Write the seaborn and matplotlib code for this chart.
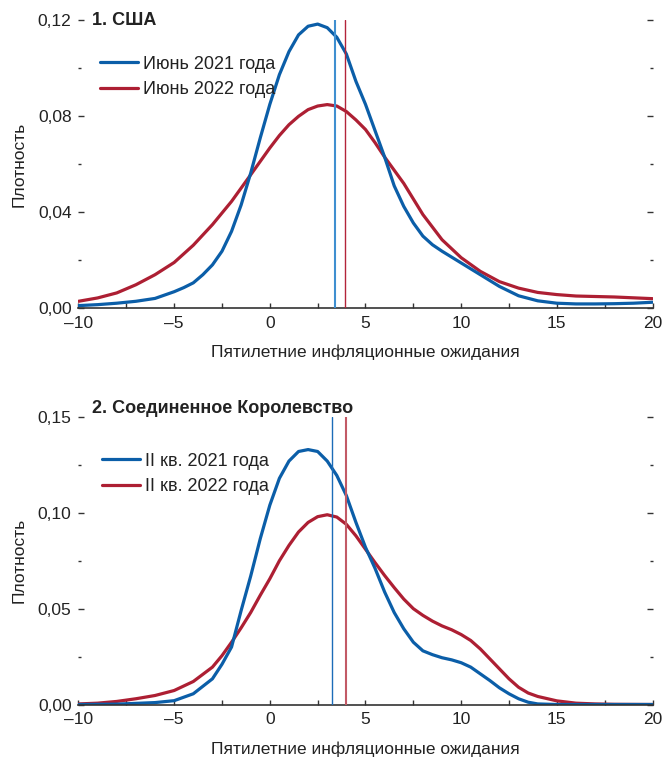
import matplotlib
matplotlib.use("Agg")
import matplotlib.pyplot as plt
import seaborn as sns
import pandas as pd
from matplotlib.ticker import MultipleLocator, FuncFormatter

# ---------------- data ----------------
x_us_2021 = [-10, -9, -8, -7, -6, -5, -4.5, -4, -3.5, -3, -2.5, -2, -1.5, -1, -0.5, 0, 0.5, 1,
             1.5, 2, 2.5, 3, 3.5, 4, 4.5, 5, 5.5, 6, 6.5, 7, 7.5, 8, 8.5, 9, 10, 11, 12, 13, 14,
             15, 16, 17, 18, 19, 20]
y_us_2021 = [0.001, 0.0014, 0.002, 0.0028, 0.0040, 0.0068, 0.0085, 0.0105, 0.0139, 0.018, 0.0237,
             0.032, 0.043, 0.0563, 0.071, 0.085, 0.0974, 0.107, 0.114, 0.1176, 0.1185, 0.117,
             0.113, 0.106, 0.0946, 0.085, 0.074, 0.063, 0.051, 0.0424, 0.0355, 0.030, 0.0264,
             0.0237, 0.0188, 0.0139, 0.009, 0.0051, 0.003, 0.002, 0.0017, 0.0017, 0.0018, 0.002,
             0.0024]

x_us_2022 = [-10, -9, -8, -7, -6, -5, -4, -3, -2, -1, 0, 0.5, 1, 1.5, 2, 2.5, 3, 3.5, 4, 4.5, 5,
             5.5, 6, 7, 8, 9, 10, 11, 12, 13, 14, 15, 16, 18, 20]
y_us_2022 = [0.0028, 0.0042, 0.0063, 0.0097, 0.0139, 0.019, 0.0262, 0.0348, 0.0445, 0.0556,
             0.0668, 0.072, 0.0765, 0.080, 0.0828, 0.0843, 0.0849, 0.0843, 0.082, 0.0785, 0.0745,
             0.069, 0.063, 0.052, 0.039, 0.0285, 0.021, 0.0153, 0.011, 0.0083, 0.0065, 0.0056,
             0.005, 0.0046, 0.0039]

x_uk_2021 = [-10, -8, -6, -5, -4, -3, -2.5, -2, -1.5, -1, -0.5, 0, 0.5, 1, 1.5, 2, 2.5, 3, 3.5, 4,
             4.5, 5, 5.5, 6, 6.5, 7, 7.5, 8, 8.5, 9, 9.5, 10, 10.5, 11, 11.5, 12, 12.5, 13, 13.5,
             14, 15, 16, 18, 20]
y_uk_2021 = [0.0, 0.0002, 0.001, 0.002, 0.0056, 0.0134, 0.021, 0.030, 0.049, 0.067, 0.0865, 0.104,
             0.118, 0.127, 0.132, 0.133, 0.132, 0.127, 0.1195, 0.109, 0.095, 0.082, 0.071, 0.0587,
             0.048, 0.0395, 0.0325, 0.028, 0.026, 0.0244, 0.0233, 0.0218, 0.0195, 0.016, 0.0125,
             0.0087, 0.0056, 0.003, 0.0012, 0.0003, 0.0, 0.0, 0.0, 0.0]

x_uk_2022 = [-10, -9, -8, -7, -6, -5, -4, -3, -2.5, -2, -1.5, -1, -0.5, 0, 0.5, 1, 1.5, 2, 2.5, 3,
             3.5, 4, 4.5, 5, 5.5, 6, 6.5, 7, 7.5, 8, 8.5, 9, 9.5, 10, 10.5, 11, 11.5, 12, 12.5, 13,
             13.5, 14, 15, 16, 17, 18, 20]
y_uk_2022 = [0.0003, 0.0007, 0.0016, 0.003, 0.0047, 0.0073, 0.012, 0.0195, 0.0255, 0.0325, 0.040,
             0.048, 0.057, 0.0656, 0.075, 0.083, 0.090, 0.095, 0.098, 0.099, 0.0978, 0.094, 0.088,
             0.081, 0.074, 0.0673, 0.061, 0.055, 0.050, 0.0465, 0.0435, 0.041, 0.039, 0.0365,
             0.0334, 0.029, 0.0238, 0.0186, 0.0134, 0.009, 0.006, 0.0042, 0.0019, 0.0007, 0.0003,
             0.0001, 0.0]

medians_us = [3.42, 3.92]
medians_uk = [3.26, 4.0]

labels_us = ["Июнь 2021 года", "Июнь 2022 года"]
labels_uk = ["II кв. 2021 года", "II кв. 2022 года"]
titles = ["1. США", "2. Соединенное Королевство"]
xlabel = "Пятилетние инфляционные ожидания"
ylabel = "Плотность"

# ---------------- style ----------------
sns.set_theme(style="white")
plt.rcParams["font.family"] = ["Liberation Sans", "DejaVu Sans"]
plt.rcParams["axes.unicode_minus"] = True

BLUE = "#0b5ea8"
RED = "#ad1f33"
DARK = "#333333"

fig = plt.figure(figsize=(6.64, 7.59), dpi=100)
ax1 = fig.add_axes([0.1182, 0.5942, 0.8645, 0.3788])
ax2 = fig.add_axes([0.1182, 0.0718, 0.8645, 0.3788])


def comma_fmt(v, pos):
    return f"{v:.2f}".replace(".", ",")


def xfmt(v, pos):
    s = f"{v:.0f}"
    return s.replace("-", "\u2013")


def style_axes(ax, ymax, ymaj, ymin):
    ax.set_xlim(-10, 20)
    ax.set_ylim(0, ymax)
    for s in ["left", "right", "top"]:
        ax.spines[s].set_visible(False)
    ax.spines["bottom"].set_color(DARK)
    ax.spines["bottom"].set_linewidth(1.2)
    ax.xaxis.set_major_locator(MultipleLocator(5))
    ax.xaxis.set_minor_locator(MultipleLocator(2.5))
    ax.xaxis.set_major_formatter(FuncFormatter(xfmt))
    ax.yaxis.set_major_locator(MultipleLocator(ymaj))
    ax.yaxis.set_minor_locator(MultipleLocator(ymin))
    ax.yaxis.set_major_formatter(FuncFormatter(comma_fmt))
    ax.tick_params(axis="x", which="both", direction="in", bottom=True, length=3.6,
                   width=1.0, color=DARK, labelsize=12.5, labelcolor="#222222", pad=5.5)
    ax.tick_params(axis="y", which="major", direction="in", left=True, right=True,
                   length=4.3, width=1.0, color=DARK, labelsize=12.5, labelcolor="#222222", pad=5)
    ax.tick_params(axis="y", which="minor", direction="in", left=True, right=True,
                   length=2.0, width=1.0, color=DARK)
    ax.set_xlabel(xlabel, fontsize=12.5, color="#222222", labelpad=10)
    ax.set_ylabel(ylabel, fontsize=12.5, color="#222222", labelpad=8)
    ax.grid(False)


def draw(ax, xa, ya, xb, yb, meds, labels, title, vcols, vlws, ymax, ymaj, ymin, leg_y, title_y, leg_x):
    dfa = pd.DataFrame({"x": xa, "y": ya})
    dfb = pd.DataFrame({"x": xb, "y": yb})
    sns.lineplot(data=dfb, x="x", y="y", ax=ax, color=RED, lw=2.3, label=labels[1])
    sns.lineplot(data=dfa, x="x", y="y", ax=ax, color=BLUE, lw=2.3, label=labels[0])
    ax.axvline(meds[0], color=vcols[0], lw=vlws[0], zorder=3)
    ax.axvline(meds[1], color=vcols[1], lw=vlws[1], zorder=3)
    style_axes(ax, ymax, ymaj, ymin)
    h, l = ax.get_legend_handles_labels()
    order = [l.index(labels[0]), l.index(labels[1])]
    ax.legend([h[i] for i in order], [l[i] for i in order], loc="upper left",
              bbox_to_anchor=(leg_x, leg_y), frameon=False, fontsize=13,
              handlelength=2.1, handletextpad=0.3, labelspacing=0.47,
              borderpad=0, borderaxespad=0, labelcolor="#222222")
    ax.text(0.0235, title_y, title, transform=ax.transAxes, ha="left", va="center",
            fontsize=13, fontweight="bold", color="#222222")


draw(ax1, x_us_2021, y_us_2021, x_us_2022, y_us_2022, medians_us, labels_us, titles[0],
     ["#3f8fd0", "#b3243a"], [1.5, 1.0], 0.12, 0.04, 0.02, 0.878, 1.0, 0.0375)
draw(ax2, x_uk_2021, y_uk_2021, x_uk_2022, y_uk_2022, medians_uk, labels_uk, titles[1],
     ["#1c6cb8", "#c25a66"], [1.0, 1.5], 0.15, 0.05, 0.025, 0.876, 1.031, 0.041)

fig.savefig("out.png", dpi=100, facecolor="white")
